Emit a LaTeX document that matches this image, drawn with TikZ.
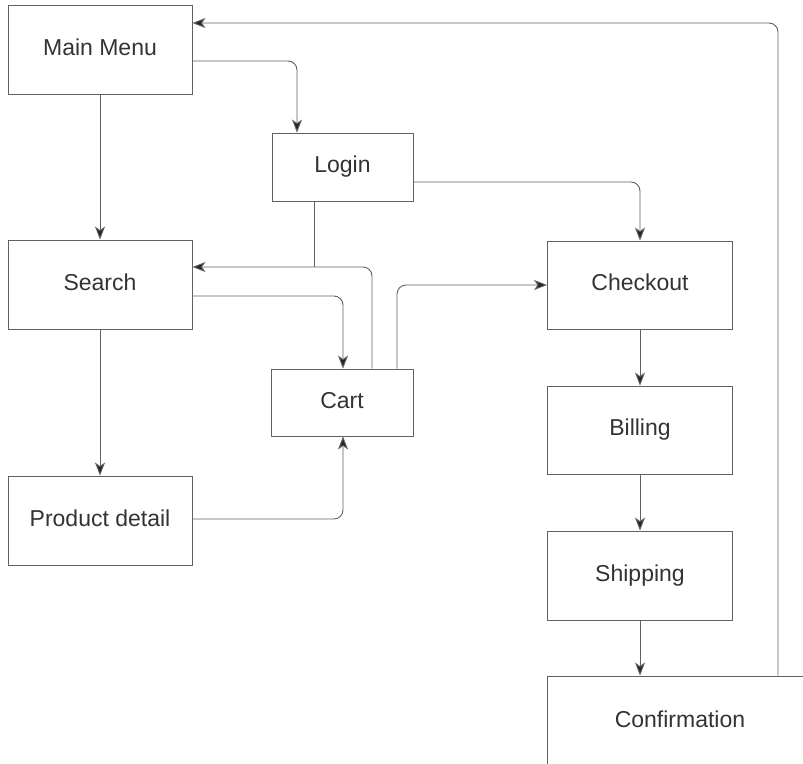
\documentclass[tikz,border=0pt]{standalone}
\usepackage{fontspec}
\setmainfont{Liberation Sans}
\usetikzlibrary{arrows.meta,calc}
\begin{document}
\begin{tikzpicture}[x=1pt,y=-1pt,
  box/.style={draw=black!62, line width=0.9pt, rectangle, inner sep=0pt,
    text=black!80, font=\fontsize{23}{23}\selectfont,
    text height=16pt, text depth=5pt},
  link/.style={draw=black!62, line width=0.9pt, rounded corners=9pt},
  arr/.style={link, -{Stealth[length=13pt,width=10pt,inset=3.5pt,fill=black!85]}}]
\clip (0,0) rectangle (803,763);
\useasboundingbox (0,0) rectangle (803,763);

% boxes
\node[box, minimum width=184pt, minimum height=89pt] (main)  at (100,49.5)  {Main Menu};
\node[box, minimum width=141pt, minimum height=68pt] (login) at (342.5,167) {Login};
\node[box, minimum width=184pt, minimum height=89pt] (search) at (100,284.5) {Search};
\node[box, minimum width=142pt, minimum height=67pt] (cart)  at (342,402.5) {Cart};
\node[box, minimum width=184pt, minimum height=89pt] (prod)  at (100,520.5) {Product detail};
\node[box, minimum width=185pt, minimum height=88pt] (chk)   at (640,285)   {Checkout};
\node[box, minimum width=185pt, minimum height=88pt] (bill)  at (640,430)   {Billing};
\node[box, minimum width=185pt, minimum height=89pt] (ship)  at (640,575.5) {Shipping};
\node[box, minimum width=266pt, minimum height=114pt, text depth=28pt] (conf) at (680,733) {Confirmation};

% vertical flows
\draw[arr] (main.south) -- (search.north);
\draw[arr] (search.south) -- (prod.north);
\draw[arr] (chk.south) -- (bill.north);
\draw[arr] (bill.south) -- (ship.north);
\draw[arr] (ship.south) -- (conf.north -| ship.south);

% main menu to login
\draw[arr] (main.east |- 0,61) -| (login.north -| 297,0);
% login to checkout
\draw[arr] (login.east |- 0,182) -| (chk.north);
% login joins the cart-to-search line
\coordinate (join) at (314,267);
\draw[link] (login.south -| join) -- (join);
% cart back to search
\draw[arr] (cart.north -| 372,0) |- (search.east |- join);
% search to cart
\draw[arr] (search.east |- 0,296) -| (cart.north -| 343,0);
% cart to checkout
\draw[arr] (cart.north -| 397,0) |- (chk.west);
% product detail to cart
\draw[arr] (prod.east |- 0,519) -| (cart.south -| 343,0);
% confirmation back to main menu
\draw[arr] (conf.north -| 778,0) |- (main.east |- 0,23);
\end{tikzpicture}
\end{document}
